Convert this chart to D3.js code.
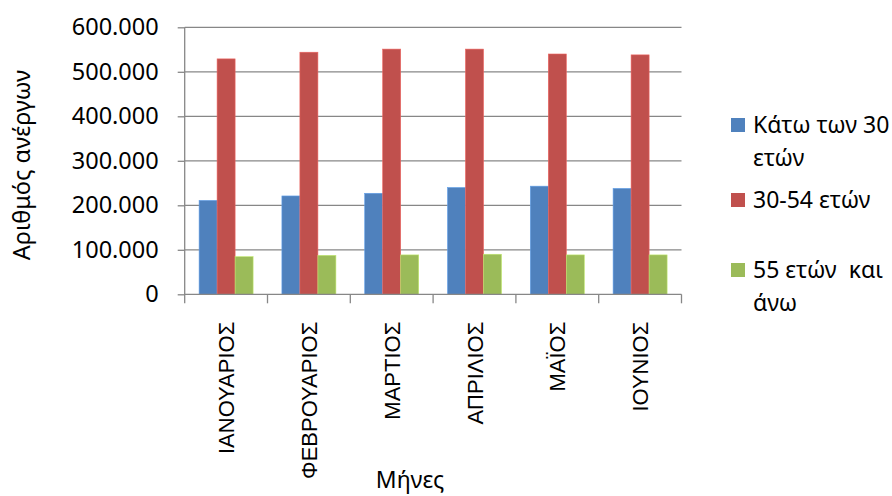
<!DOCTYPE html>
<html><head><meta charset="utf-8">
<script src="https://cdn.jsdelivr.net/npm/d3@7"></script>
<style>body{margin:0;background:#fff;} svg{display:block;font-family:"Noto Sans",sans-serif;}</style>
</head><body>
<svg id="c" width="892" height="496"></svg>
<script>
const months = ["ΙΑΝΟΥΑΡΙΟΣ","ΦΕΒΡΟΥΑΡΙΟΣ","ΜΑΡΤΙΟΣ","ΑΠΡΙΛΙΟΣ","ΜΑΪΟΣ","ΙΟΥΝΙΟΣ"];
const seriesNames = ["Κάτω των 30 ετών","30-54 ετών","55 ετών  και άνω"];
const under30 = [211000, 221000, 227000, 240000, 243000, 238000];
const age30to54 = [529000, 544000, 551000, 551000, 540000, 538000];
const over55 = [84500, 87500, 88500, 90000, 88500, 88500];
const yTicks = [0,100000,200000,300000,400000,500000,600000];
const colors = ["#4F81BD","#C0504D","#9BBB59"];
const legendLines = [["Κάτω των 30","ετών"],["30-54 ετών"],["55 ετών  και","άνω"]];

const series = [under30, age30to54, over55];
const svg = d3.select("#c");
const L = 184.7, R = 681.5, T = 27.3, B = 294.3;
const x = d3.scaleBand().domain(months).range([L, R]).paddingInner(0.3478).paddingOuter(0.1739);
const xOuter = d3.scaleBand().domain(months).range([L, R]);
const y = d3.scaleLinear().domain([0, 600000]).range([B, T]);
const x1 = d3.scaleBand().domain([0,1,2]).range([0, x.bandwidth()]);
const grid = "#878787";
const fmt = v => v === 0 ? "0" : d3.format(",")(v).replace(/,/g, ".");

// gridlines
svg.append("g").selectAll("line").data(yTicks.filter(d=>d>0)).join("line")
  .attr("x1", L).attr("x2", R).attr("y1", d=>y(d)).attr("y2", d=>y(d))
  .attr("stroke", grid).attr("stroke-width", 1.3);

// bars
const g = svg.append("g");
months.forEach((m, i) => {
  series.forEach((s, k) => {
    g.append("rect")
      .attr("x", x(m) + x1(k)).attr("width", x1.bandwidth())
      .attr("y", y(s[i])).attr("height", B - y(s[i]))
      .attr("fill", colors[k])
      .attr("stroke", d3.color(colors[k]).brighter(0.6)).attr("stroke-width", 0.6);
  });
});

// y axis
const ya = d3.axisLeft(y).tickValues(yTicks).tickFormat(fmt).tickSize(7).tickPadding(19);
const yg = svg.append("g").attr("transform", `translate(${L},0)`).call(ya);
yg.select(".domain").attr("stroke", grid).attr("stroke-width", 1.3).attr("d", `M0,${T}V${B+9}`);
yg.selectAll(".tick line").attr("stroke", grid).attr("stroke-width", 1.3);
yg.selectAll(".tick text").attr("font-size", 23.5).attr("fill", "#000").attr("font-family", "Noto Sans");

// x axis
const xa = d3.axisBottom(xOuter).tickSize(0).tickFormat("");
const xg = svg.append("g").attr("transform", `translate(0,${B})`).call(xa);
xg.select(".domain").attr("stroke", grid).attr("stroke-width", 1.3).attr("d", `M${L},0H${R}`);
xg.selectAll(".tick").remove();
const bounds = months.map(m => xOuter(m) + xOuter.bandwidth());
xg.selectAll("line.sep").data(bounds).join("line").attr("class","sep")
  .attr("x1", d=>d).attr("x2", d=>d).attr("y1", 0).attr("y2", 9)
  .attr("stroke", grid).attr("stroke-width", 1.3);
xg.selectAll("text.lab").data(months).join("text").attr("class","lab")
  .attr("transform", d => `translate(${xOuter(d) + xOuter.bandwidth()/2 + 8},${321.7 - B}) rotate(-90)`)
  .attr("text-anchor", "end").attr("font-size", 22).attr("fill", "#000").text(d=>d);

// axis titles
svg.append("text").attr("transform", "translate(30,165) rotate(-90)").attr("text-anchor","middle")
  .attr("font-size", 23.5).attr("fill","#000").text("Αριθμός ανέργων");
svg.append("text").attr("x", 410).attr("y", 488).attr("text-anchor","middle")
  .attr("font-size", 23).attr("fill","#000").text("Μήνες");

// legend
const legTop = [118, 193, 263];
const lg = svg.append("g");
seriesNames.forEach((n, k) => {
  lg.append("rect").attr("x", 731).attr("y", legTop[k]).attr("width", 14).attr("height", 14).attr("fill", colors[k]);
  const t = lg.append("text").attr("x", 753).attr("y", legTop[k] + 15).attr("font-size", 23).attr("fill","#000");
  legendLines[k].forEach((ln, j) => {
    t.append("tspan").attr("x", 753).attr("dy", j === 0 ? 0 : 33).attr("xml:space","preserve").text(ln);
  });
});
</script>
</body></html>
